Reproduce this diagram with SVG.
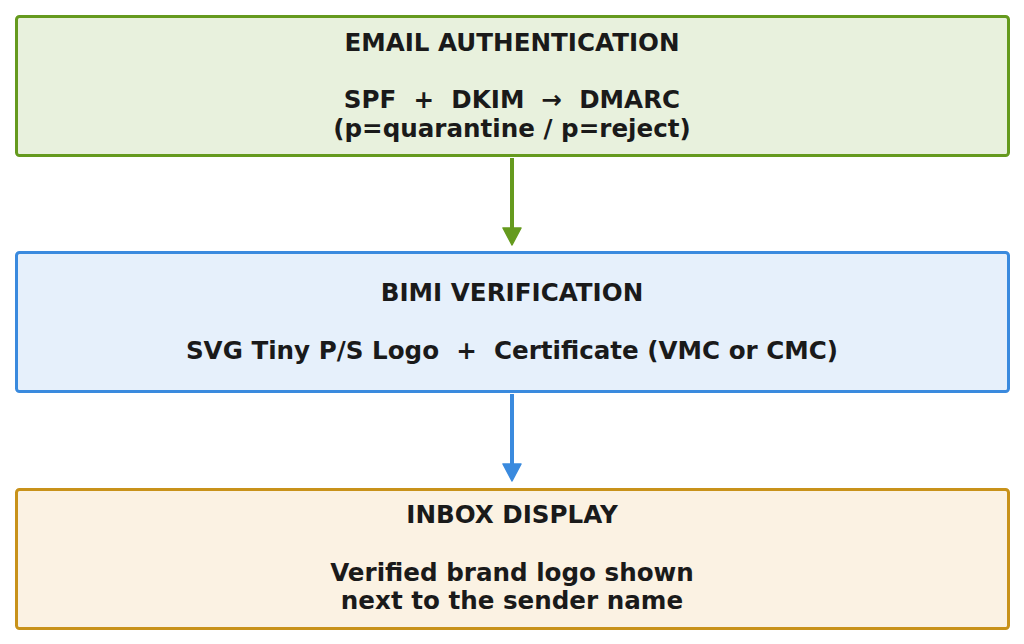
<svg xmlns="http://www.w3.org/2000/svg" width="1024" height="644" viewBox="0 0 1024 644">
<style>
text{font-family:"DejaVu Sans",sans-serif;font-weight:bold;font-size:24.6px;fill:#1a1a1a;text-anchor:middle;white-space:pre}
.box{stroke-width:3}
</style>
<rect width="1024" height="644" fill="#ffffff"/>
<g id="email-auth">
<rect class="box" x="16.5" y="16.5" width="992" height="139" rx="3" fill="#e8f1dd" stroke="#659a1e"/>
<text x="512" y="51">EMAIL AUTHENTICATION</text>
<text x="512" y="108" xml:space="preserve">SPF  +  DKIM  →  DMARC</text>
<text x="512" y="137">(p=quarantine / p=reject)</text>
</g>
<g id="bimi">
<rect class="box" x="16.5" y="252.5" width="992" height="139" rx="3" fill="#e6f0fb" stroke="#3a8ade"/>
<text x="512" y="301">BIMI VERIFICATION</text>
<text x="512" y="359" xml:space="preserve">SVG Tiny P/S Logo  +  Certificate (VMC or CMC)</text>
</g>
<g id="inbox">
<rect class="box" x="16.5" y="489.5" width="992" height="139" rx="3" fill="#fbf2e3" stroke="#c8921a"/>
<text x="512" y="523">INBOX DISPLAY</text>
<text x="512" y="581">Verified brand logo shown</text>
<text x="512" y="609">next to the sender name</text>
</g>
<g id="connectors">
<line x1="512" y1="158" x2="512" y2="230" stroke="#659a1e" stroke-width="4"/>
<path d="M503,228 L521,228 L512,245 Z" fill="#659a1e" stroke="#659a1e" stroke-width="1.5" stroke-linejoin="round"/>
<line x1="512" y1="394" x2="512" y2="466" stroke="#3a8ade" stroke-width="4"/>
<path d="M503,464 L521,464 L512,481 Z" fill="#3a8ade" stroke="#3a8ade" stroke-width="1.5" stroke-linejoin="round"/>
</g>
</svg>
